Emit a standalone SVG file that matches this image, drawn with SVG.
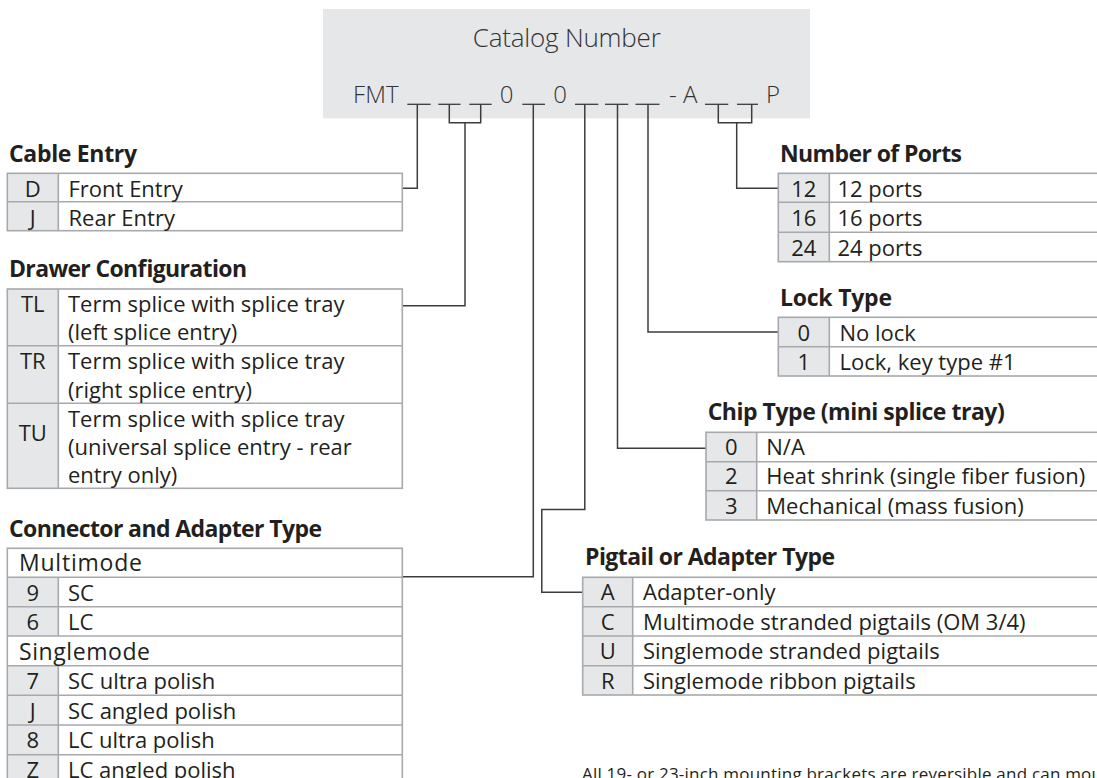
<svg xmlns="http://www.w3.org/2000/svg" width="1097" height="778" viewBox="0 0 1097 778">
<style>
.hd{font-family:"Open Sans","Liberation Sans",sans-serif;font-weight:700;font-size:23px;fill:#231f20}
.tx{font-family:"Open Sans","Liberation Sans",sans-serif;font-weight:400;font-size:22px;fill:#231f20}
.cd{font-family:"Open Sans","Liberation Sans",sans-serif;font-weight:400;font-size:22px;fill:#231f20;text-anchor:middle}
.grp{font-family:"Open Sans","Liberation Sans",sans-serif;font-weight:500;font-size:23px;fill:#231f20}
.cat{font-family:"Open Sans","Liberation Sans",sans-serif;font-weight:300;fill:#333}
.cell{fill:#e6e7e8}
.bd{fill:none;stroke:#a7a9ac;stroke-width:1.6}
.us{stroke:#3c3c3c;stroke-width:1.3}
.conn{fill:none;stroke:#3c3c3c;stroke-width:1.5}
.note{font-family:"Open Sans","Liberation Sans",sans-serif;font-size:17px;fill:#231f20}
</style>

<g id="catalog-number">
<rect x="323" y="9" width="487" height="109.3" fill="#e6e7e8"/>
<text class="cat" x="566.8" y="46.7" font-size="26" text-anchor="middle" textLength="188">Catalog Number</text>
<text class="cat" x="375.8" y="102.5" font-size="24" text-anchor="middle">FMT</text>
<text class="cat" x="506.7" y="102.5" font-size="24" text-anchor="middle">0</text>
<text class="cat" x="560" y="102.5" font-size="24" text-anchor="middle">0</text>
<text class="cat" x="683.3" y="102.5" font-size="24" text-anchor="middle">- A</text>
<text class="cat" x="773" y="102.5" font-size="24" text-anchor="middle">P</text>
<line class="us" x1="407.3" y1="104.3" x2="430.7" y2="104.3"/>
<line class="us" x1="438.3" y1="104.3" x2="460.5" y2="104.3"/>
<line class="us" x1="469.3" y1="104.3" x2="491.7" y2="104.3"/>
<line class="us" x1="522.3" y1="104.3" x2="545" y2="104.3"/>
<line class="us" x1="575" y1="104.3" x2="598.3" y2="104.3"/>
<line class="us" x1="605" y1="104.3" x2="628.3" y2="104.3"/>
<line class="us" x1="635.5" y1="104.3" x2="659.5" y2="104.3"/>
<line class="us" x1="705" y1="104.3" x2="728.3" y2="104.3"/>
<line class="us" x1="737" y1="104.3" x2="758" y2="104.3"/>
</g>

<g id="connectors">
<polyline class="conn" points="417.3,104.3 417.3,188.3 402.3,188.3"/>
<polyline class="conn" points="449.3,104.3 449.3,122.7 480.7,122.7 480.7,104.3"/>
<polyline class="conn" points="465,122.7 465,305.7 402.3,305.7"/>
<polyline class="conn" points="533.3,104.3 533.3,576.7 402.3,576.7"/>
<polyline class="conn" points="584.8,104.3 584.8,509.5 541.8,509.5 541.8,592.2 582.7,592.2"/>
<polyline class="conn" points="617.5,104.3 617.5,448.3 706,448.3"/>
<polyline class="conn" points="648,104.3 648,332 778.3,332"/>
<polyline class="conn" points="718.3,104.3 718.3,122.7 751.7,122.7 751.7,104.3"/>
<polyline class="conn" points="736.7,122.7 736.7,188.3 778.3,188.3"/>
</g>

<g id="cable-entry">
<text class="hd" x="9" y="162.3" textLength="128">Cable Entry</text>
<rect class="cell" x="7.3" y="173.3" width="51" height="57.4"/>
<rect class="bd" x="7.3" y="173.3" width="395" height="57.4"/>
<line class="bd" x1="58.3" y1="173.3" x2="58.3" y2="230.7"/>
<line class="bd" x1="7.3" y1="201.7" x2="402.3" y2="201.7"/>
<text class="cd" x="32.8" y="196.7">D</text>
<text class="tx" x="68.5" y="196.7">Front Entry</text>
<text class="cd" x="32.8" y="225.7">J</text>
<text class="tx" x="68.5" y="225.7">Rear Entry</text>
</g>

<g id="drawer-configuration">
<text class="hd" x="9" y="276.7" textLength="238">Drawer Configuration</text>
<rect class="cell" x="7.3" y="289" width="51" height="199.3"/>
<rect class="bd" x="7.3" y="289" width="395" height="199.3"/>
<line class="bd" x1="58.3" y1="289" x2="58.3" y2="488.3"/>
<line class="bd" x1="7.3" y1="345.7" x2="402.3" y2="345.7"/>
<line class="bd" x1="7.3" y1="403.3" x2="402.3" y2="403.3"/>
<text class="cd" x="32.8" y="311.7">TL</text>
<text class="tx" x="68" y="311.7">Term splice with splice tray</text>
<text class="tx" x="68" y="340">(left splice entry)</text>
<text class="cd" x="32.8" y="369.3">TR</text>
<text class="tx" x="68" y="369.3">Term splice with splice tray</text>
<text class="tx" x="68" y="397.7">(right splice entry)</text>
<text class="cd" x="32.8" y="440.7">TU</text>
<text class="tx" x="68" y="426.7">Term splice with splice tray</text>
<text class="tx" x="68" y="455">(universal splice entry - rear</text>
<text class="tx" x="68" y="483.3">entry only)</text>
</g>

<g id="connector-adapter-type">
<text class="hd" x="9" y="536.7" textLength="313">Connector and Adapter Type</text>
<rect class="cell" x="7.3" y="577.3" width="51" height="58.7"/>
<rect class="cell" x="7.3" y="665.7" width="51" height="118.6"/>
<rect class="bd" x="7.3" y="548.3" width="395" height="236"/>
<line class="bd" x1="58.3" y1="577.3" x2="58.3" y2="636"/>
<line class="bd" x1="58.3" y1="665.7" x2="58.3" y2="784.3"/>
<line class="bd" x1="7.3" y1="577.3" x2="402.3" y2="577.3"/>
<line class="bd" x1="7.3" y1="606.7" x2="402.3" y2="606.7"/>
<line class="bd" x1="7.3" y1="636" x2="402.3" y2="636"/>
<line class="bd" x1="7.3" y1="665.7" x2="402.3" y2="665.7"/>
<line class="bd" x1="7.3" y1="695.3" x2="402.3" y2="695.3"/>
<line class="bd" x1="7.3" y1="725" x2="402.3" y2="725"/>
<line class="bd" x1="7.3" y1="754.7" x2="402.3" y2="754.7"/>
<text class="grp" x="19" y="571" textLength="123">Multimode</text>
<text class="cd" x="32.8" y="600.5">9</text>
<text class="tx" x="68" y="600.5">SC</text>
<text class="cd" x="32.8" y="630">6</text>
<text class="tx" x="68" y="630">LC</text>
<text class="grp" x="19" y="659.5" textLength="131">Singlemode</text>
<text class="cd" x="32.8" y="689">7</text>
<text class="tx" x="68" y="689">SC ultra polish</text>
<text class="cd" x="32.8" y="718.7">J</text>
<text class="tx" x="68" y="718.7">SC angled polish</text>
<text class="cd" x="32.8" y="748.3">8</text>
<text class="tx" x="68" y="748.3">LC ultra polish</text>
<text class="cd" x="32.8" y="778">Z</text>
<text class="tx" x="68" y="778">LC angled polish</text>
</g>

<g id="number-of-ports">
<text class="hd" x="780" y="161.7" textLength="182">Number of Ports</text>
<rect class="cell" x="778.3" y="173.3" width="51" height="88.4"/>
<rect class="bd" x="778.3" y="173.3" width="330" height="88.4"/>
<line class="bd" x1="829.3" y1="173.3" x2="829.3" y2="261.7"/>
<line class="bd" x1="778.3" y1="202.3" x2="1108" y2="202.3"/>
<line class="bd" x1="778.3" y1="232.3" x2="1108" y2="232.3"/>
<text class="cd" x="803.8" y="196.7">12</text>
<text class="tx" x="837.5" y="196.7">12 ports</text>
<text class="cd" x="803.8" y="226.3">16</text>
<text class="tx" x="837.5" y="226.3">16 ports</text>
<text class="cd" x="803.8" y="255.6">24</text>
<text class="tx" x="837.5" y="255.6">24 ports</text>
</g>

<g id="lock-type">
<text class="hd" x="780" y="306" textLength="112">Lock Type</text>
<rect class="cell" x="778.3" y="317.3" width="51" height="58.7"/>
<rect class="bd" x="778.3" y="317.3" width="330" height="58.7"/>
<line class="bd" x1="829.3" y1="317.3" x2="829.3" y2="376"/>
<line class="bd" x1="778.3" y1="346.7" x2="1108" y2="346.7"/>
<text class="cd" x="803.8" y="340.7">0</text>
<text class="tx" x="839.5" y="340.7">No lock</text>
<text class="cd" x="803.8" y="370">1</text>
<text class="tx" x="839.5" y="370">Lock, key type #1</text>
</g>

<g id="chip-type">
<text class="hd" x="707.7" y="420" textLength="297">Chip Type (mini splice tray)</text>
<rect class="cell" x="706" y="432.3" width="50.7" height="87.7"/>
<rect class="bd" x="706" y="432.3" width="400" height="87.7"/>
<line class="bd" x1="756.7" y1="432.3" x2="756.7" y2="520"/>
<line class="bd" x1="706" y1="461.7" x2="1108" y2="461.7"/>
<line class="bd" x1="706" y1="490.7" x2="1108" y2="490.7"/>
<text class="cd" x="731.3" y="455">0</text>
<text class="tx" x="766.3" y="455">N/A</text>
<text class="cd" x="731.3" y="484.3">2</text>
<text class="tx" x="766.3" y="484.3">Heat shrink (single fiber fusion)</text>
<text class="cd" x="731.3" y="514">3</text>
<text class="tx" x="766.3" y="514">Mechanical (mass fusion)</text>
</g>

<g id="pigtail-adapter-type">
<text class="hd" x="585" y="565" textLength="250">Pigtail or Adapter Type</text>
<rect class="cell" x="582.7" y="577.3" width="50" height="117.7"/>
<rect class="bd" x="582.7" y="577.3" width="530" height="117.7"/>
<line class="bd" x1="632.7" y1="577.3" x2="632.7" y2="695"/>
<line class="bd" x1="582.7" y1="606.7" x2="1108" y2="606.7"/>
<line class="bd" x1="582.7" y1="636" x2="1108" y2="636"/>
<line class="bd" x1="582.7" y1="665.7" x2="1108" y2="665.7"/>
<text class="cd" x="607.7" y="600">A</text>
<text class="tx" x="643" y="600">Adapter-only</text>
<text class="cd" x="607.7" y="629.5">C</text>
<text class="tx" x="643" y="629.5">Multimode stranded pigtails (OM 3/4)</text>
<text class="cd" x="607.7" y="659">U</text>
<text class="tx" x="643" y="659">Singlemode stranded pigtails</text>
<text class="cd" x="607.7" y="688.5">R</text>
<text class="tx" x="643" y="688.5">Singlemode ribbon pigtails</text>
</g>

<g id="note">
<text class="note" x="582" y="780" textLength="520">All 19- or 23-inch mounting brackets are reversible and can mou</text>
</g>
</svg>
